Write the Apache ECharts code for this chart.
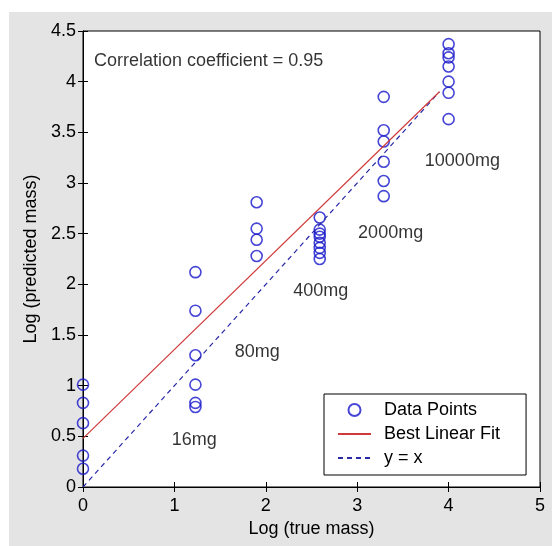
<!DOCTYPE html>
<html>
<head>
<meta charset="utf-8">
<script src="https://cdn.jsdelivr.net/npm/echarts@6/dist/echarts.min.js"></script>
<style>
  body { margin: 0; background: #fff; }
  #wrap { position: relative; width: 552px; height: 546px; }
  #bg { position: absolute; left: 9px; top: 12px; right: 0; bottom: 0; background: #e4e4e4; }
  #chart { position: absolute; left: 0; top: 0; width: 552px; height: 546px; }
</style>
</head>
<body>
<div id="wrap"><div id="bg"></div><div id="chart"></div></div>
<script>
// log of true mass for each dose group
var trueLog = [0, 1.23, 1.9, 2.59, 3.29, 4];
// log of predicted mass, one list per group
var predicted = [
  [1.01, 0.83, 0.63, 0.31, 0.18],
  [2.12, 1.74, 1.30, 1.01, 0.83, 0.79],
  [2.81, 2.55, 2.44, 2.28],
  [2.66, 2.54, 2.50, 2.47, 2.41, 2.36, 2.31, 2.25],
  [3.85, 3.52, 3.41, 3.21, 3.02, 2.87],
  [4.37, 4.28, 4.24, 4.15, 4.00, 3.89, 3.63]
];
var fitX = [0, 3.9];
var fitY = [0.48, 3.9];
var idX = [0, 3.9];
var idY = [0, 3.9];
var doseLabels = ['16mg', '80mg', '400mg', '2000mg', '10000mg'];
var doseLabelX = [0.97, 1.66, 2.30, 3.01, 3.74];
var doseLabelY = [0.46, 1.33, 1.93, 2.51, 3.22];
var xTicks = [0, 5, 1];
var yTicks = [0, 4.5, 0.5];

var points = [];
predicted.forEach(function (g, i) {
  g.forEach(function (v) { points.push([trueLog[i], v]); });
});
var fitLine = fitX.map(function (x, i) { return [x, fitY[i]]; });
var idLine = idX.map(function (x, i) { return [x, idY[i]]; });
var notes = doseLabels.map(function (t, i) { return { value: [doseLabelX[i], doseLabelY[i]], name: t }; });
notes.push({ value: [0.12, 4.2], name: 'Correlation coefficient = 0.95' });

var font = 'Liberation Sans, Arial, sans-serif';
var fs = 18;
var noDot = { color: 'transparent', borderColor: 'transparent', borderWidth: 0 };
var axisBase = {
  axisLine: { show: true, lineStyle: { color: '#000', width: 1 } },
  axisTick: { show: true, inside: true, length: 5, lineStyle: { color: '#000' } },
  splitLine: { show: false }
};

var chart = echarts.init(document.getElementById('chart'));
chart.setOption({
  animation: false,
  textStyle: { fontFamily: font },
  grid: { left: 83, top: 31, width: 457, height: 456, show: true, backgroundColor: '#fff', borderColor: '#000', borderWidth: 1 },
  legend: {
    data: [
      { name: 'Data Points' },
      { name: 'Best Linear Fit', itemStyle: noDot },
      { name: 'y = x', itemStyle: noDot }
    ],
    orient: 'vertical',
    left: 324, top: 394,
    backgroundColor: '#fff', borderColor: '#000', borderWidth: 1, borderRadius: 0,
    padding: [7, 26, 8, 13],
    itemGap: 6, itemWidth: 33, itemHeight: 12,
    textStyle: { fontSize: fs, color: '#000', fontFamily: font, padding: [0, 0, 0, 8] }
  },
  xAxis: [
    Object.assign({
      type: 'value', min: xTicks[0], max: xTicks[1], interval: xTicks[2],
      name: 'Log (true mass)', nameLocation: 'middle', nameGap: 32,
      nameTextStyle: { fontSize: fs, color: '#000', fontFamily: font },
      axisLabel: { fontSize: fs, color: '#000', margin: 10 }
    }, axisBase),
    Object.assign({
      type: 'value', position: 'top', min: xTicks[0], max: xTicks[1], interval: xTicks[2],
      axisLabel: { show: false }
    }, axisBase)
  ],
  yAxis: [
    Object.assign({
      type: 'value', min: yTicks[0], max: yTicks[1], interval: yTicks[2],
      name: 'Log (predicted mass)', nameLocation: 'middle', nameGap: 42,
      nameTextStyle: { fontSize: fs, color: '#000', fontFamily: font },
      axisLabel: { fontSize: fs, color: '#000', margin: 7 }
    }, axisBase),
    Object.assign({
      type: 'value', position: 'right', min: yTicks[0], max: yTicks[1], interval: yTicks[2],
      axisLabel: { show: false }
    }, axisBase)
  ],
  series: [
    {
      name: 'y = x', type: 'line', data: idLine, symbol: 'none',
      lineStyle: { color: '#2a2aa8', width: 1.2, type: [5, 4] }, itemStyle: { color: '#2a2aa8' }
    },
    {
      name: 'Best Linear Fit', type: 'line', data: fitLine, symbol: 'none',
      lineStyle: { color: '#d03a3a', width: 1.2 }, itemStyle: { color: '#d03a3a' }
    },
    {
      name: 'Data Points', type: 'scatter', data: points, symbol: 'circle', symbolSize: 11,
      itemStyle: { color: 'transparent', borderColor: '#1818cc', borderWidth: 1.6 }
    },
    {
      name: 'notes', type: 'scatter', data: notes, symbolSize: 0, silent: true,
      label: {
        show: true, position: 'right', distance: 0, color: '#000', fontSize: fs, fontFamily: font,
        formatter: function (p) { return p.name; }
      }
    }
  ]
});
</script>
</body>
</html>
